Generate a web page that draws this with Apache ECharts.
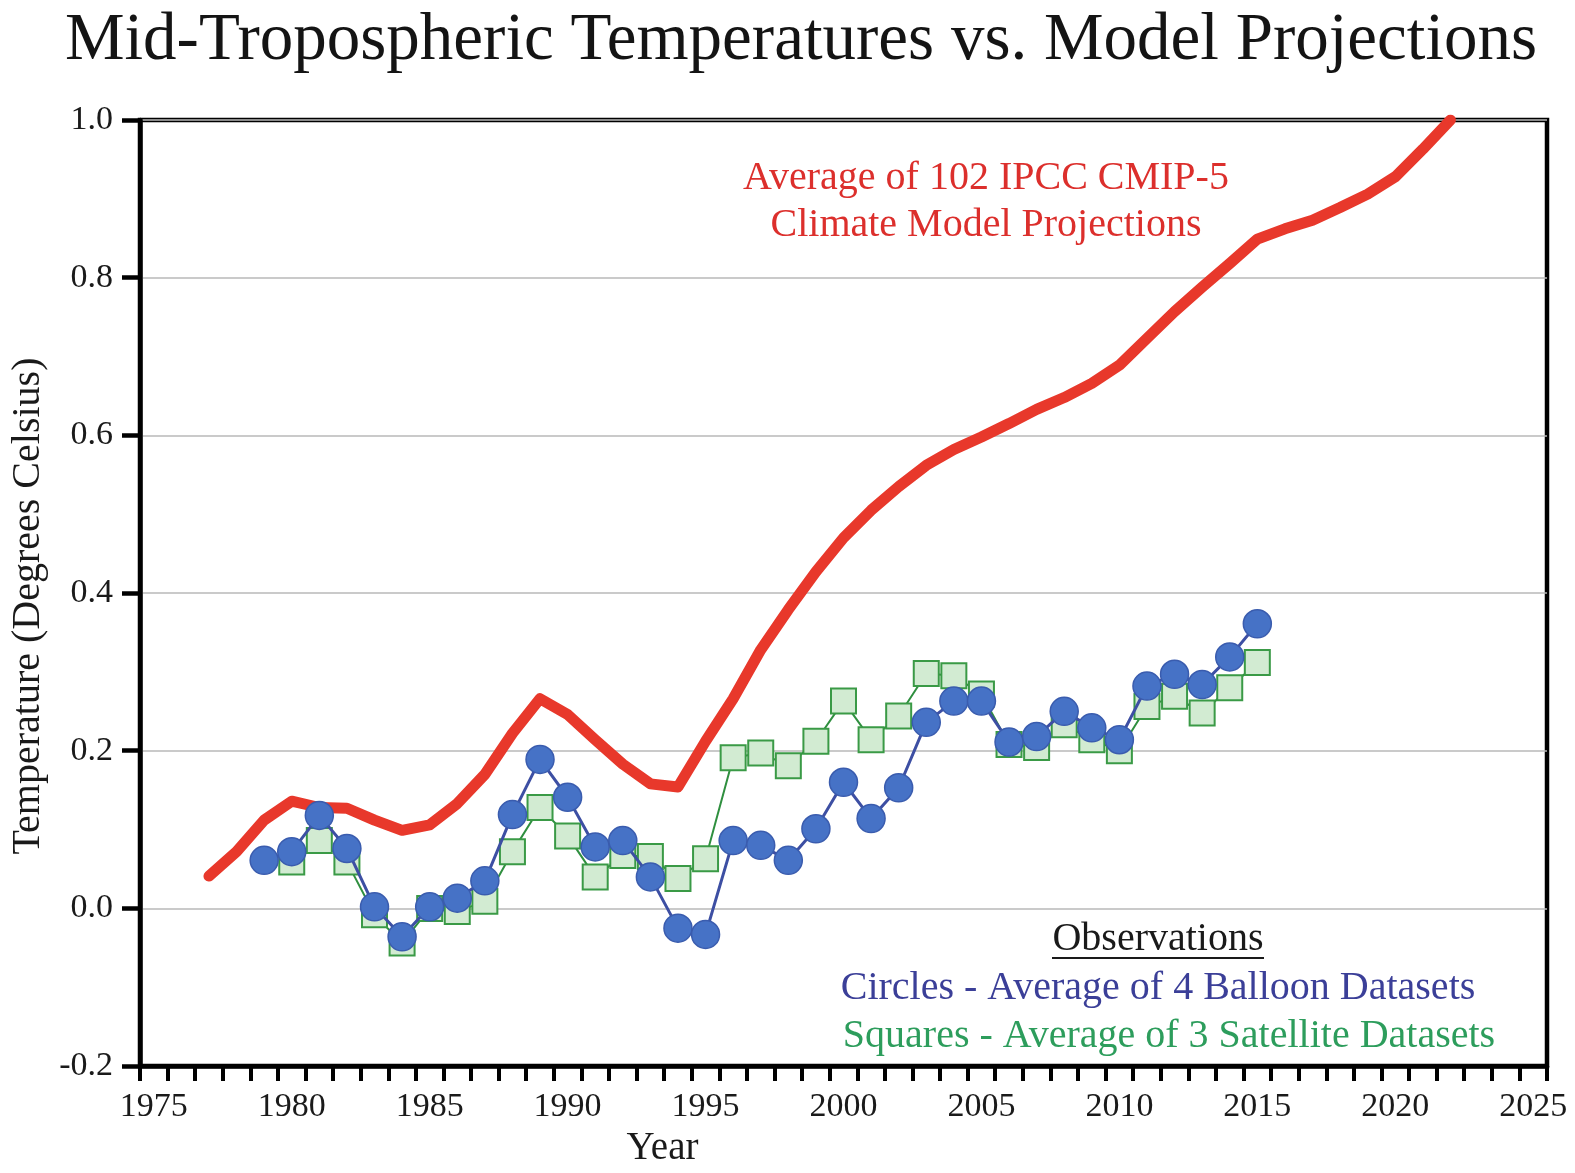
<!DOCTYPE html>
<html>
<head>
<meta charset="utf-8">
<script src="https://cdn.jsdelivr.net/npm/echarts/dist/echarts.min.js"></script>
<style>
  html, body { margin: 0; padding: 0; background: #fff; }
  #chart { width: 1575px; height: 1173px; }
</style>
</head>
<body>
<div id="chart"></div>
<script>
const categories = ['1975','1976','1977','1978','1979','1980','1981','1982','1983','1984',
  '1985','1986','1987','1988','1989','1990','1991','1992','1993','1994',
  '1995','1996','1997','1998','1999','2000','2001','2002','2003','2004',
  '2005','2006','2007','2008','2009','2010','2011','2012','2013','2014',
  '2015','2016','2017','2018','2019','2020','2021','2022','2023','2024','2025'];

const yTicks = [-0.2, 0.0, 0.2, 0.4, 0.6, 0.8, 1.0];

const modelYears = [1977,1978,1979,1980,1981,1982,1983,1984,1985,1986,1987,1988,1989,1990,
  1991,1992,1993,1994,1995,1996,1997,1998,1999,2000,2001,2002,2003,2004,2005,2006,2007,
  2008,2009,2010,2011,2012,2013,2014,2015,2016,2017,2018,2019,2020,2021,2022];
const modelValues = [0.041,0.072,0.112,0.136,0.128,0.127,0.112,0.099,0.106,0.133,0.170,0.222,0.266,0.246,
  0.214,0.183,0.158,0.154,0.212,0.266,0.328,0.379,0.427,0.470,0.505,0.535,0.562,0.582,0.598,0.615,0.633,
  0.648,0.666,0.689,0.723,0.757,0.788,0.818,0.849,0.862,0.873,0.889,0.906,0.928,0.963,1.0];

const balloonYears = [1979,1980,1981,1982,1983,1984,1985,1986,1987,1988,1989,1990,
  1991,1992,1993,1994,1995,1996,1997,1998,1999,2000,
  2001,2002,2003,2004,2005,2006,2007,2008,2009,2010,
  2011,2012,2013,2014,2015];
const balloonValues = [0.061,0.072,0.118,0.076,0.002,-0.036,0.002,0.013,0.035,0.119,0.189,0.141,
  0.078,0.086,0.040,-0.025,-0.033,0.086,0.080,0.061,0.101,0.160,
  0.114,0.153,0.236,0.263,0.263,0.211,0.218,0.250,0.229,0.214,
  0.282,0.297,0.284,0.319,0.361];

const satelliteYears = [1980,1981,1982,1983,1984,1985,1986,1987,1988,1989,1990,
  1991,1992,1993,1994,1995,1996,1997,1998,1999,2000,
  2001,2002,2003,2004,2005,2006,2007,2008,2009,2010,
  2011,2012,2013,2014,2015];
const satelliteValues = [0.059,0.086,0.059,-0.008,-0.044,0.000,-0.004,0.009,0.072,0.128,0.092,
  0.040,0.067,0.066,0.038,0.063,0.191,0.197,0.181,0.212,0.263,
  0.214,0.244,0.298,0.295,0.272,0.208,0.204,0.233,0.214,0.200,
  0.256,0.269,0.248,0.280,0.312];

const pairs = (ys, vs) => ys.map((y, i) => [String(y), vs[i]]);

const SERIF = "'Liberation Serif', 'Times New Roman', Times, serif";

const chart = echarts.init(document.getElementById('chart'), null, { renderer: 'canvas' });

chart.setOption({
  backgroundColor: '#ffffff',
  animation: false,
  title: {
    text: 'Mid-Tropospheric Temperatures vs. Model Projections',
    left: 796,
    textAlign: 'center',
    top: 3,
    textStyle: { fontFamily: SERIF, fontSize: 67, fontWeight: 'normal', color: '#141414' }
  },
  grid: {
    left: 139, right: 28, top: 120, bottom: 101,
    show: true, borderColor: '#000', borderWidth: 4.5, backgroundColor: 'transparent'
  },
  xAxis: {
    type: 'category',
    data: categories,
    boundaryGap: true,
    name: 'Year',
    nameLocation: 'middle',
    nameGap: 62,
    nameTextStyle: { fontFamily: SERIF, fontSize: 39, color: '#1a1a1a', padding: [0, 362, 0, 0] },
    axisLine: { show: true, onZero: false, lineStyle: { color: '#000', width: 4.5 } },
    axisTick: { show: true, interval: 0, alignWithLabel: false, length: 15, lineStyle: { color: '#000', width: 4 } },
    axisLabel: {
      interval: 4, margin: 24,
      fontFamily: SERIF, fontSize: 34, color: '#1a1a1a'
    },
    splitLine: { show: false }
  },
  yAxis: {
    type: 'value',
    min: yTicks[0],
    max: yTicks[yTicks.length - 1],
    interval: 0.2,
    name: 'Temperature (Degrees Celsius)',
    nameLocation: 'middle',
    nameGap: 92,
    nameTextStyle: { fontFamily: SERIF, fontSize: 40, color: '#1a1a1a', padding: [0, 26, 0, 0] },
    axisLine: { show: true, onZero: false, lineStyle: { color: '#000', width: 4.5 } },
    axisTick: { show: true, length: 18, lineStyle: { color: '#000', width: 4.5 } },
    axisLabel: {
      margin: 27,
      fontFamily: SERIF, fontSize: 34, color: '#1a1a1a',
      formatter: v => v.toFixed(1)
    },
    splitLine: { show: true, lineStyle: { color: '#b8b8b8', width: 1.6 } }
  },
  series: [
    {
      name: 'Average of 102 IPCC CMIP-5 Climate Model Projections',
      type: 'line',
      data: pairs(modelYears, modelValues),
      showSymbol: false,
      symbol: 'none',
      z: 2,
      lineStyle: { color: '#e8382b', width: 11, cap: 'round', join: 'round' },
      emphasis: { disabled: true }
    },
    {
      name: 'Squares - Average of 3 Satellite Datasets',
      type: 'line',
      data: pairs(satelliteYears, satelliteValues),
      symbol: 'rect',
      symbolSize: 25,
      showSymbol: true,
      showAllSymbol: true,
      z: 3,
      lineStyle: { color: '#2f8f3f', width: 2 },
      itemStyle: { color: '#d2ebd2', borderColor: '#3a9a46', borderWidth: 2 },
      emphasis: { disabled: true }
    },
    {
      name: 'Circles - Average of 4 Balloon Datasets',
      type: 'line',
      data: pairs(balloonYears, balloonValues),
      symbol: 'circle',
      symbolSize: 28,
      showSymbol: true,
      showAllSymbol: true,
      z: 4,
      lineStyle: { color: '#3d4fa3', width: 3 },
      itemStyle: { color: '#4672c6', borderColor: '#3a5cae', borderWidth: 1.5 },
      emphasis: { disabled: true }
    }
  ],
  graphic: [
    { type: 'text', x: 986, y: 178, z: 10,
      style: { text: 'Average of 102 IPCC CMIP-5', fontFamily: SERIF, fontSize: 40, fill: '#dc2f2c', textAlign: 'center', textVerticalAlign: 'middle' } },
    { type: 'text', x: 986, y: 225, z: 10,
      style: { text: 'Climate Model Projections', fontFamily: SERIF, fontSize: 40, fill: '#dc2f2c', textAlign: 'center', textVerticalAlign: 'middle' } },
    { type: 'text', x: 1158, y: 939, z: 10,
      style: { text: 'Observations', fontFamily: SERIF, fontSize: 40, fill: '#1a1a1a', textAlign: 'center', textVerticalAlign: 'middle' } },
    { type: 'line', z: 10,
      shape: { x1: 1052, y1: 958, x2: 1264, y2: 958 },
      style: { stroke: '#1a1a1a', lineWidth: 2 } },
    { type: 'text', x: 1158, y: 988, z: 10,
      style: { text: 'Circles - Average of 4 Balloon Datasets', fontFamily: SERIF, fontSize: 40, fill: '#3b3f98', textAlign: 'center', textVerticalAlign: 'middle' } },
    { type: 'text', x: 1169, y: 1036, z: 10,
      style: { text: 'Squares - Average of 3 Satellite Datasets', fontFamily: SERIF, fontSize: 40, fill: '#2d9d5c', textAlign: 'center', textVerticalAlign: 'middle' } }
  ]
});
</script>
</body>
</html>
